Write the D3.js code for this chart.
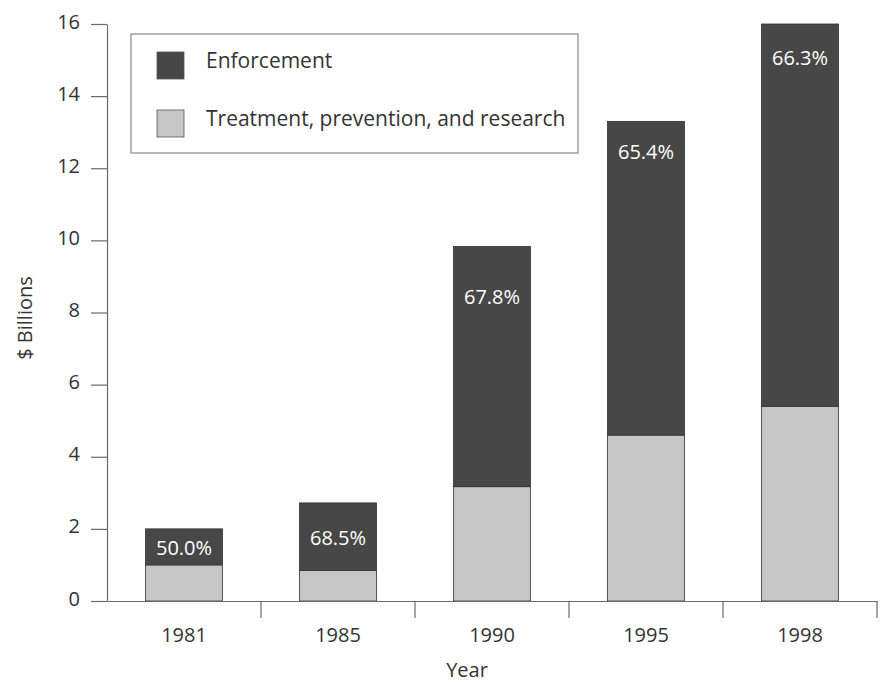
<!DOCTYPE html>
<html>
<head>
<meta charset="utf-8">
<script src="https://cdn.jsdelivr.net/npm/d3@7"></script>
<style>
  body { margin: 0; background: #fff; }
  text { font-family: "Open Sans", Lato, sans-serif; fill: #333; }
</style>
</head>
<body>
<svg id="chart" width="880" height="683"></svg>
<script>
// values ($ billions)
const years = ["1981", "1985", "1990", "1995", "1998"];
const treatment = [1.0, 0.85, 3.17, 4.6, 5.4];
const enforcement = [1.0, 1.87, 6.66, 8.7, 10.6];
const shareLabels = ["50.0%", "68.5%", "67.8%", "65.4%", "66.3%"];
const labelAt = [1.47, 1.75, 8.42, 12.44, 15.06];
const yTicks = [0, 2, 4, 6, 8, 10, 12, 14, 16];
const seriesNames = ["Enforcement", "Treatment, prevention, and research"];

const darkFill = "#474747";
const lightFill = "#c6c6c6";
const axisColor = "#6a6a6a";

const svg = d3.select("#chart");

const x = d3.scaleBand()
  .domain(years)
  .range([107, 877])
  .paddingInner(0.5)
  .paddingOuter(0.25);

const y = d3.scaleLinear()
  .domain([0, 16])
  .range([601, 24]);

const rows = years.map((yr, i) => ({
  year: yr,
  treatment: treatment[i],
  enforcement: enforcement[i],
  label: shareLabels[i],
  labelAt: labelAt[i]
}));

const stack = d3.stack().keys(["treatment", "enforcement"]);
const layers = stack(rows);
const fills = { treatment: lightFill, enforcement: darkFill };

// bars
svg.append("g").selectAll("g")
  .data(layers)
  .enter().append("g")
  .attr("fill", d => fills[d.key])
  .selectAll("rect")
  .data(d => d)
  .enter().append("rect")
  .attr("x", d => x(d.data.year))
  .attr("width", x.bandwidth())
  .attr("y", d => y(d[1]))
  .attr("height", d => y(d[0]) - y(d[1]))
  .attr("stroke", "#333")
  .attr("stroke-width", 0.8);

// percent labels
svg.append("g").selectAll("text")
  .data(rows)
  .enter().append("text")
  .attr("x", d => x(d.year) + x.bandwidth() / 2)
  .attr("y", d => y(d.labelAt))
  .attr("dy", "0.35em")
  .attr("text-anchor", "middle")
  .style("fill", "#fff")
  .style("font-size", "20px")
  .text(d => d.label);

// y axis
const yAxis = svg.append("g")
  .attr("transform", "translate(107,0)")
  .call(d3.axisLeft(y).tickValues(yTicks).tickSize(16).tickSizeOuter(0).tickPadding(11));
yAxis.selectAll("path, line").attr("stroke", axisColor).attr("stroke-width", 1.2);
yAxis.selectAll("text")
  .attr("dy", "0.2em")
  .style("font-size", "20px")
  .style("font-family", "'Open Sans', sans-serif")
  .attr("fill", "#333");

// x axis
const xAxis = svg.append("g")
  .attr("transform", "translate(0,601)")
  .call(d3.axisBottom(x).tickSize(0).tickPadding(27));
xAxis.select(".domain").attr("stroke", axisColor).attr("stroke-width", 1.2);
xAxis.selectAll("text")
  .style("font-size", "20px")
  .style("font-family", "'Open Sans', sans-serif")
  .attr("fill", "#333");

// tick marks sit between the bands
const gap = (x.step() - x.bandwidth()) / 2;
svg.append("g").selectAll("line")
  .data(years)
  .enter().append("line")
  .attr("x1", d => x(d) + x.bandwidth() + gap)
  .attr("x2", d => x(d) + x.bandwidth() + gap)
  .attr("y1", 601)
  .attr("y2", 618)
  .attr("stroke", axisColor)
  .attr("stroke-width", 1.2);

// axis titles
svg.append("text")
  .attr("transform", "translate(25,318) rotate(-90)")
  .attr("text-anchor", "middle")
  .attr("dy", "0.35em")
  .style("font-size", "20px")
  .text("$ Billions");

svg.append("text")
  .attr("x", 467)
  .attr("y", 670)
  .attr("dy", "0.35em")
  .attr("text-anchor", "middle")
  .style("font-size", "20px")
  .text("Year");

// legend
const legend = svg.append("g");
legend.append("rect")
  .attr("x", 131).attr("y", 34)
  .attr("width", 447).attr("height", 119)
  .attr("fill", "#fff")
  .attr("stroke", "#888")
  .attr("stroke-width", 1.2);

const legendItems = legend.selectAll(".item")
  .data(seriesNames)
  .enter().append("g")
  .attr("class", "item")
  .attr("transform", (d, i) => `translate(157,${52 + i * 58})`);

legendItems.append("rect")
  .attr("width", 27).attr("height", 27)
  .attr("fill", (d, i) => i === 0 ? darkFill : lightFill)
  .attr("stroke", "#555")
  .attr("stroke-width", 0.8);

legendItems.append("text")
  .attr("x", 49)
  .attr("y", 9)
  .attr("dy", "0.35em")
  .style("font-size", "21px")
  .text(d => d);
</script>
</body>
</html>
